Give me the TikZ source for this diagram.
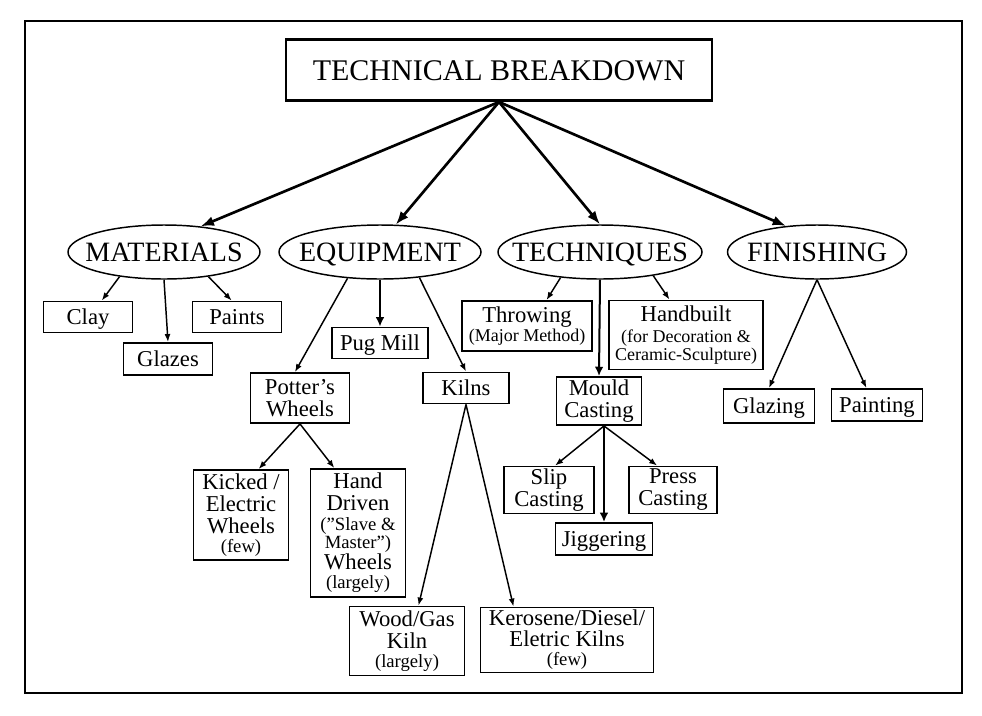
\documentclass[tikz,border=0pt]{standalone}
\usepackage{fontspec}
\setmainfont{Liberation Serif}
\usetikzlibrary{arrows.meta,shapes.geometric}
\newcommand\sub[2][14]{{\fontsize{#1}{#1}\selectfont #2}}

\begin{document}
\begin{tikzpicture}[x=0.75pt,y=-0.75pt,
  box/.style 2 args={draw,line width=1.4pt,inner sep=0pt,align=center,minimum width=#1*0.75pt,minimum height=#2*0.75pt,font=\fontsize{17}{16.5}\selectfont},
  single/.style={text height=11.6pt,text depth=0pt},
  topic/.style={draw,ellipse,line width=1.1pt,inner ysep=0pt,inner xsep=-14pt,minimum width=#1*0.75pt,minimum height=54*0.75pt,text height=13.9pt,text depth=0pt,font=\fontsize{21}{21}\selectfont},
  bigarrow/.style={line width=2pt,-{Latex[length=10pt,width=7.5pt]}},
  midarrow/.style={line width=1.5pt,-{Latex[length=7pt,width=6.5pt]}},
  arrow/.style={line width=1.1pt,-{Latex[length=6pt,width=4.5pt]}}]
\useasboundingbox (0,0) rectangle (982,715);
\draw[line width=2.2pt] (25,21) rectangle (962,693);

\node[box={426}{61},line width=2.2pt,text height=15pt,text depth=0pt,font=\fontsize{22.5}{22.5}\selectfont] (title) at (499,70) {TECHNICAL BREAKDOWN};

\node[topic=192] (mat) at (164,252) {MATERIALS};
\node[topic=202] (eq) at (380,252) {EQUIPMENT};
\node[topic=204] (tech) at (600,252) {TECHNIQUES};
\node[topic=179] (fin) at (817,252) {FINISHING};

\draw[bigarrow] (title.south) -- (mat.35);
\draw[bigarrow] (title.south) -- (eq.60);
\draw[bigarrow] (title.south) -- (tech.north);
\draw[bigarrow] (title.south) -- (fin.140);

\node[box={89}{31},single] (clay) at (88,317) {Clay};
\node[box={89}{32},single] (glazes) at (168,359) {Glazes};
\node[box={89}{31},single] (paints) at (237,317) {Paints};
\draw[arrow] (mat.209) -- (clay.50);
\draw[arrow] (mat.south) -- (glazes.north);
\draw[arrow] (mat.331) -- (paints.108);

\node[box={96}{31},single] (pug) at (380,343) {Pug Mill};
\node[box={99}{50}] (potter) at (300,398) {Potter’s\\Wheels};
\node[box={86}{31},single] (kilns) at (466,388) {Kilns};
\draw[arrow] (eq.219) -- (potter.101);
\draw[midarrow] (eq.south) -- (pug.north);
\draw[arrow] (eq.327) -- (kilns.north);

\node[box={95}{90}] (kicked) at (241,515) {Kicked /\\Electric\\Wheels\\[-2pt]\sub{(few)}};
\node[box={95}{128}] (hand) at (358,533) {Hand\\Driven\\[-2pt]\sub{(”Slave \&}\\[-2.5pt]\sub{Master”)}\\[-1pt]Wheels\\[-2pt]\sub{(largely)}};
\draw[arrow] (potter.south) -- (kicked.69);
\draw[arrow] (potter.south) -- (hand.110);

\node[box={115}{69}] (wood) at (407,641) {Wood/Gas\\Kiln\\[-2pt]\sub{(largely)}};
\node[box={173}{65}] (kero) at (567,640) {Kerosene/Diesel/\\[-1pt]Eletric Kilns\\[-2pt]\sub{(few)}};
\draw[arrow] (kilns.south) -- (wood.72);
\draw[arrow] (kilns.south) -- (kero.148);

\node[box={130}{50}] (throw) at (527,326) {Throwing\\[-2pt]\sub[13.5]{(Major Method)}};
\node[box={154}{69}] (hand built) at (686,335) {Handbuilt\\[-1pt]\sub[13.5]{(for Decoration \&}\\[-3pt]\sub[13.5]{Ceramic-Sculpture)}};
\node[box={85}{48}] (mould) at (599,401) {Mould\\Casting};
\draw[arrow] (tech.213) -- (throw.53);
\draw[midarrow] (tech.south) -- (mould.north);
\draw[arrow] (tech.336) -- (hand built.115);

\node[box={90}{47}] (slip) at (549,490) {Slip\\Casting};
\node[box={88}{47}] (press) at (673,490) {Press\\Casting};
\node[box={97}{32},single] (jigger) at (604,539) {Jiggering};
\coordinate (mc) at (mould.south -| jigger.north);
\draw[arrow] (mc) -- (slip.76);
\draw[midarrow] (mc) -- (jigger.north);
\draw[arrow] (mc) -- (press.123);

\node[box={91}{34},single] (glazing) at (769,406) {Glazing};
\node[box={91}{32},single] (painting) at (877,405) {Painting};
\draw[arrow] (fin.south) -- (glazing.north);
\draw[arrow] (fin.south) -- (painting.122);
\end{tikzpicture}
\end{document}
